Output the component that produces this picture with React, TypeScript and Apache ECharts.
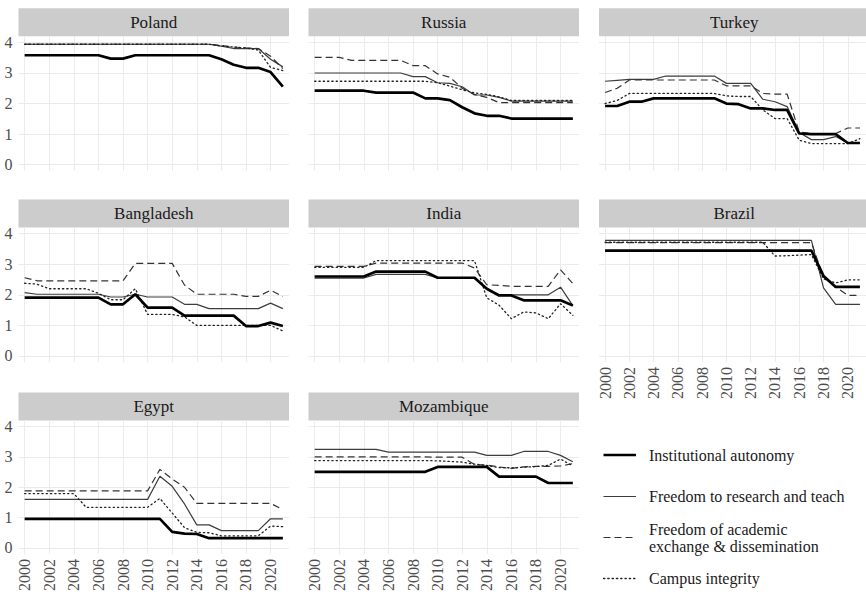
import React, { useEffect, useRef } from "react";
import * as echarts from "echarts";

const years = [2000, 2001, 2002, 2003, 2004, 2005, 2006, 2007, 2008, 2009, 2010, 2011, 2012, 2013, 2014, 2015, 2016, 2017, 2018, 2019, 2020, 2021];
const xTickYears = [2000, 2002, 2004, 2006, 2008, 2010, 2012, 2014, 2016, 2018, 2020];
const yTicks = [0, 1, 2, 3, 4];

const indicators = [
  "Institutional autonomy",
  "Freedom to research and teach",
  "Freedom of academic exchange & dissemination",
  "Campus integrity",
];

const countries = ["Poland", "Russia", "Turkey", "Bangladesh", "India", "Brazil", "Egypt", "Mozambique"];

// Poland
const polandIA = [3.58, 3.58, 3.58, 3.58, 3.58, 3.58, 3.58, 3.47, 3.47, 3.58, 3.58, 3.58, 3.58, 3.58, 3.58, 3.58, 3.45, 3.27, 3.17, 3.17, 3.03, 2.55];
const polandResearch = [3.94, 3.94, 3.94, 3.94, 3.94, 3.94, 3.94, 3.94, 3.94, 3.94, 3.94, 3.94, 3.94, 3.94, 3.94, 3.94, 3.88, 3.8, 3.8, 3.8, 3.45, 3.2];
const polandExchange = [3.94, 3.94, 3.94, 3.94, 3.94, 3.94, 3.94, 3.94, 3.94, 3.94, 3.94, 3.94, 3.94, 3.94, 3.94, 3.94, 3.9, 3.85, 3.82, 3.8, 3.55, 3.14];
const polandCampus = [3.94, 3.94, 3.94, 3.94, 3.94, 3.94, 3.94, 3.94, 3.94, 3.94, 3.94, 3.94, 3.94, 3.94, 3.94, 3.94, 3.88, 3.85, 3.82, 3.75, 3.18, 3.08];

// Russia
const russiaIA = [2.42, 2.42, 2.42, 2.42, 2.42, 2.36, 2.36, 2.36, 2.36, 2.17, 2.17, 2.11, 1.88, 1.68, 1.6, 1.6, 1.51, 1.51, 1.51, 1.51, 1.51, 1.51];
const russiaResearch = [3.0, 3.0, 3.0, 3.0, 3.0, 3.0, 3.0, 3.0, 2.88, 2.88, 2.68, 2.66, 2.55, 2.28, 2.28, 2.2, 2.08, 2.08, 2.08, 2.08, 2.08, 2.08];
const russiaExchange = [3.51, 3.51, 3.51, 3.41, 3.41, 3.41, 3.41, 3.41, 3.24, 3.24, 2.97, 2.86, 2.5, 2.3, 2.2, 2.03, 2.03, 2.03, 2.03, 2.03, 2.03, 2.03];
const russiaCampus = [2.73, 2.73, 2.73, 2.73, 2.73, 2.73, 2.73, 2.73, 2.73, 2.73, 2.68, 2.57, 2.45, 2.35, 2.3, 2.22, 2.1, 2.1, 2.1, 2.1, 2.1, 2.1];

// Turkey
const turkeyIA = [1.92, 1.92, 2.06, 2.06, 2.17, 2.17, 2.17, 2.17, 2.17, 2.17, 2.0, 1.98, 1.84, 1.84, 1.79, 1.79, 1.02, 1.0, 1.0, 1.0, 0.71, 0.71];
const turkeyResearch = [2.73, 2.76, 2.79, 2.79, 2.79, 2.9, 2.9, 2.9, 2.9, 2.9, 2.66, 2.66, 2.66, 2.14, 2.06, 1.9, 1.05, 0.82, 0.82, 0.92, 0.71, 0.71];
const turkeyExchange = [2.36, 2.5, 2.77, 2.77, 2.77, 2.77, 2.77, 2.77, 2.77, 2.77, 2.58, 2.58, 2.58, 2.33, 2.31, 2.31, 1.07, 1.02, 1.02, 1.02, 1.2, 1.2];
const turkeyCampus = [2.0, 2.1, 2.33, 2.33, 2.33, 2.33, 2.33, 2.33, 2.33, 2.33, 2.25, 2.23, 2.23, 1.79, 1.51, 1.51, 0.8, 0.69, 0.69, 0.69, 0.69, 0.85];

// Bangladesh
const bangladeshIA = [1.91, 1.91, 1.91, 1.91, 1.91, 1.91, 1.91, 1.69, 1.69, 2.02, 1.58, 1.58, 1.58, 1.32, 1.32, 1.32, 1.32, 1.32, 0.98, 0.98, 1.09, 0.98];
const bangladeshResearch = [2.07, 2.02, 2.02, 2.02, 2.02, 2.02, 2.02, 1.93, 1.93, 2.02, 1.93, 1.93, 1.93, 1.69, 1.69, 1.55, 1.55, 1.55, 1.55, 1.55, 1.73, 1.55];
const bangladeshExchange = [2.56, 2.46, 2.46, 2.46, 2.46, 2.46, 2.46, 2.46, 2.46, 3.03, 3.03, 3.03, 3.03, 2.32, 2.02, 2.02, 2.02, 2.02, 1.95, 1.95, 2.15, 1.95];
const bangladeshCampus = [2.38, 2.35, 2.2, 2.2, 2.2, 2.2, 2.05, 1.84, 1.84, 2.2, 1.36, 1.36, 1.36, 1.28, 1.0, 1.0, 1.0, 1.0, 1.0, 1.0, 1.0, 0.82];

// India
const indiaIA = [2.6, 2.6, 2.6, 2.6, 2.6, 2.76, 2.76, 2.76, 2.76, 2.76, 2.56, 2.56, 2.56, 2.56, 2.2, 1.98, 1.98, 1.82, 1.82, 1.82, 1.82, 1.65];
const indiaResearch = [2.55, 2.55, 2.55, 2.55, 2.55, 2.67, 2.67, 2.67, 2.67, 2.67, 2.55, 2.55, 2.55, 2.55, 2.2, 2.0, 2.0, 2.0, 2.0, 2.0, 2.25, 1.65];
const indiaExchange = [2.93, 2.93, 2.93, 2.93, 2.93, 3.04, 3.04, 3.04, 3.04, 3.04, 3.04, 3.04, 3.04, 2.88, 2.33, 2.31, 2.28, 2.28, 2.28, 2.28, 2.82, 2.37];
const indiaCampus = [2.9, 2.9, 2.9, 2.9, 2.9, 3.12, 3.12, 3.12, 3.12, 3.12, 3.12, 3.12, 3.12, 3.12, 1.9, 1.66, 1.22, 1.44, 1.41, 1.22, 1.71, 1.33];

// Brazil
const brazilIA = [3.45, 3.45, 3.45, 3.45, 3.45, 3.45, 3.45, 3.45, 3.45, 3.45, 3.45, 3.45, 3.45, 3.45, 3.45, 3.45, 3.45, 3.45, 2.62, 2.26, 2.26, 2.26];
const brazilResearch = [3.78, 3.78, 3.78, 3.78, 3.78, 3.78, 3.78, 3.78, 3.78, 3.78, 3.78, 3.78, 3.78, 3.78, 3.78, 3.78, 3.78, 3.78, 2.23, 1.69, 1.69, 1.69];
const brazilExchange = [3.71, 3.71, 3.71, 3.71, 3.71, 3.71, 3.71, 3.71, 3.71, 3.71, 3.71, 3.71, 3.71, 3.71, 3.71, 3.71, 3.71, 3.71, 2.58, 2.26, 1.98, 1.98];
const brazilCampus = [3.72, 3.72, 3.72, 3.72, 3.72, 3.72, 3.72, 3.72, 3.72, 3.72, 3.72, 3.72, 3.72, 3.72, 3.27, 3.28, 3.3, 3.32, 2.52, 2.39, 2.49, 2.49];

// Egypt
const egyptIA = [0.96, 0.96, 0.96, 0.96, 0.96, 0.96, 0.96, 0.96, 0.96, 0.96, 0.96, 0.96, 0.53, 0.47, 0.46, 0.32, 0.32, 0.32, 0.32, 0.32, 0.32, 0.32];
const egyptResearch = [1.6, 1.6, 1.6, 1.6, 1.6, 1.6, 1.6, 1.6, 1.6, 1.6, 1.6, 2.36, 2.03, 1.45, 0.76, 0.76, 0.57, 0.57, 0.57, 0.57, 0.96, 0.96];
const egyptExchange = [1.88, 1.88, 1.88, 1.88, 1.88, 1.88, 1.88, 1.88, 1.88, 1.88, 1.88, 2.59, 2.27, 2.0, 1.47, 1.47, 1.47, 1.47, 1.47, 1.47, 1.47, 1.26];
const egyptCampus = [1.79, 1.79, 1.79, 1.79, 1.79, 1.34, 1.34, 1.34, 1.34, 1.34, 1.34, 1.63, 1.15, 0.67, 0.51, 0.5, 0.4, 0.4, 0.4, 0.4, 0.72, 0.7];

// Mozambique
const mozambiqueIA = [2.51, 2.51, 2.51, 2.51, 2.51, 2.51, 2.51, 2.51, 2.51, 2.51, 2.67, 2.67, 2.67, 2.67, 2.67, 2.35, 2.35, 2.35, 2.35, 2.14, 2.14, 2.14];
const mozambiqueResearch = [3.25, 3.25, 3.25, 3.25, 3.25, 3.25, 3.16, 3.16, 3.16, 3.16, 3.16, 3.16, 3.16, 3.16, 3.05, 3.05, 3.05, 3.18, 3.18, 3.18, 3.05, 2.84];
const mozambiqueExchange = [3.0, 3.0, 3.0, 3.0, 3.0, 3.0, 3.0, 3.0, 3.0, 3.0, 2.99, 2.99, 2.99, 2.75, 2.73, 2.67, 2.62, 2.67, 2.69, 2.69, 2.7, 2.78];
const mozambiqueCampus = [2.88, 2.88, 2.88, 2.88, 2.88, 2.88, 2.88, 2.88, 2.88, 2.88, 2.87, 2.85, 2.83, 2.76, 2.72, 2.65, 2.64, 2.66, 2.68, 2.72, 2.93, 2.7];

const countryData: number[][][] = [
  [polandIA, polandResearch, polandExchange, polandCampus],
  [russiaIA, russiaResearch, russiaExchange, russiaCampus],
  [turkeyIA, turkeyResearch, turkeyExchange, turkeyCampus],
  [bangladeshIA, bangladeshResearch, bangladeshExchange, bangladeshCampus],
  [indiaIA, indiaResearch, indiaExchange, indiaCampus],
  [brazilIA, brazilResearch, brazilExchange, brazilCampus],
  [egyptIA, egyptResearch, egyptExchange, egyptCampus],
  [mozambiqueIA, mozambiqueResearch, mozambiqueExchange, mozambiqueCampus],
];

const FONT = "Liberation Serif";

const lineStyles: any[] = [
  { color: "#000000", width: 2.7, type: "solid" },
  { color: "#3d3d3d", width: 1.2, type: "solid" },
  { color: "#333333", width: 1.2, type: [7, 4] },
  { color: "#222222", width: 1.3, type: [1.3, 3], cap: "round" },
];

export default function App() {
  const ref = useRef<HTMLDivElement>(null);
  useEffect(() => {
    if (!ref.current) return;
    const chart = echarts.init(ref.current, undefined, { renderer: "svg" });

    const colLeft = [18.5, 308.5, 599];
    const rowTop = [36.3, 227.6, 420.5];
    const panelW = 270.5;
    const panelH = 134.5;
    const stripH = 28;

    const grids: any[] = [];
    const xAxes: any[] = [];
    const yAxes: any[] = [];
    const series: any[] = [];
    const graphics: any[] = [];

    countries.forEach((name, i) => {
      const row = Math.floor(i / 3);
      const col = i % 3;
      const left = colLeft[col];
      const top = rowTop[row];
      const showX = i >= 5;
      const showY = col === 0;
      grids.push({ left, top, width: panelW, height: panelH, containLabel: false });
      xAxes.push({
        gridIndex: i,
        type: "value",
        min: 1999.5,
        max: 2021.5,
        axisLine: { show: false },
        axisTick: { show: false, customValues: xTickYears },
        axisLabel: {
          show: showX,
          customValues: xTickYears,
          rotate: 90,
          margin: 5,
          fontFamily: FONT,
          fontSize: 16,
          color: "#4d4d4d",
          formatter: (v: number) => String(v),
        },
        splitLine: { show: true, lineStyle: { color: "#ebebeb", width: 1 } },
      });
      yAxes.push({
        gridIndex: i,
        type: "value",
        min: -0.2,
        max: 4.2,
        axisLine: { show: false },
        axisTick: { show: false, customValues: yTicks },
        axisLabel: {
          show: showY,
          customValues: yTicks,
          margin: 6,
          fontFamily: FONT,
          fontSize: 16,
          color: "#4d4d4d",
          formatter: (v: number) => String(v),
        },
        splitLine: { show: true, lineStyle: { color: "#ebebeb", width: 1 } },
      });
      countryData[i].forEach((vals, k) => {
        series.push({
          type: "line",
          name: indicators[k],
          xAxisIndex: i,
          yAxisIndex: i,
          symbol: "none",
          silent: true,
          z: k === 0 ? 3 : 2,
          lineStyle: lineStyles[k],
          data: years.map((y, j) => [y, vals[j]]),
        });
      });
      graphics.push({
        type: "rect",
        shape: { x: left, y: top - stripH, width: panelW, height: stripH },
        style: { fill: "#cccccc" },
      });
      graphics.push({
        type: "text",
        x: left + panelW / 2,
        y: top - stripH / 2,
        style: {
          text: name,
          fontFamily: FONT,
          fontSize: 17,
          fill: "#1a1a1a",
          align: "center",
          verticalAlign: "middle",
        },
      });
    });

    // legend
    const legX1 = 603.5;
    const legX2 = 636;
    const legTextX = 649;
    const legendItems = [
      { y: 455, text: ["Institutional autonomy"] },
      { y: 496.5, text: ["Freedom to research and teach"] },
      { y: 537.5, text: ["Freedom of academic", "exchange & dissemination"] },
      { y: 578.5, text: ["Campus integrity"] },
    ];
    legendItems.forEach((it, k) => {
      const ls = lineStyles[k];
      graphics.push({
        type: "line",
        shape: { x1: legX1, y1: it.y, x2: legX2, y2: it.y },
        style: {
          stroke: ls.color,
          lineWidth: ls.width,
          lineDash: Array.isArray(ls.type) ? ls.type : null,
          lineCap: ls.cap || "butt",
        },
      });
      const n = it.text.length;
      it.text.forEach((t, li) => {
        graphics.push({
          type: "text",
          x: legTextX,
          y: it.y + (li - (n - 1) / 2) * 17,
          style: {
            text: t,
            fontFamily: FONT,
            fontSize: 16,
            fill: "#1a1a1a",
            align: "left",
            verticalAlign: "middle",
          },
        });
      });
    });

    chart.setOption({
      animation: false,
      backgroundColor: "#ffffff",
      grid: grids,
      xAxis: xAxes,
      yAxis: yAxes,
      series,
      graphic: graphics,
    });
    return () => chart.dispose();
  }, []);
  return (
    <div
      ref={ref}
      style={{ position: "fixed", left: 0, top: 0, width: 866, height: 594 }}
    />
  );
}
